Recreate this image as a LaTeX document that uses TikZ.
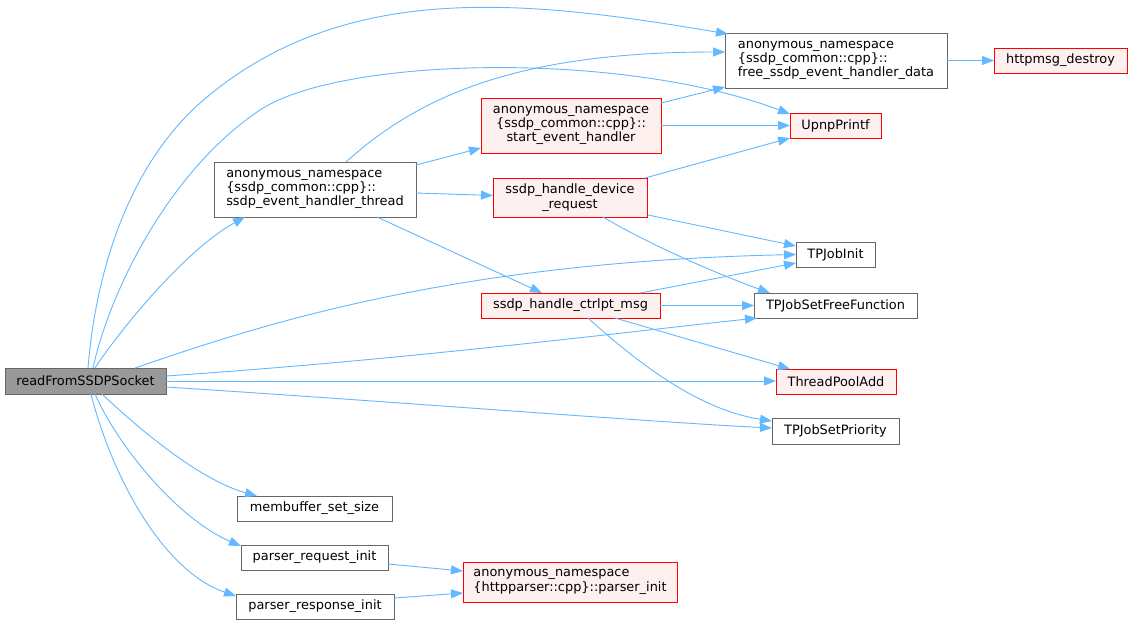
\documentclass[tikz,border=0pt]{standalone}
\usepackage{fontspec}
\setmainfont{DejaVu Sans}
\usetikzlibrary{arrows.meta,calc}
\definecolor{edgec}{HTML}{63B8FF}
\definecolor{grayb}{HTML}{666666}
\definecolor{redfill}{HTML}{FFF0F0}
\definecolor{mainfill}{HTML}{999999}
\begin{document}
\begin{tikzpicture}[x=1pt,y=-1pt,
  base/.style={rectangle,inner sep=0pt,outer sep=0pt,line width=1pt,align=left,
    font=\fontsize{12.9}{14.3}\selectfont},
  box/.style={base,draw=grayb,fill=white},
  redbox/.style={base,draw=red,fill=redfill},
  mainbox/.style={base,draw=grayb,fill=mainfill},
  edge/.style={draw=edgec,line width=0.9pt,-{Triangle[length=12pt,width=9pt]}}]
\useasboundingbox[fill=white] (0,0) rectangle (1132,625);

% nodes
\node[mainbox,minimum width=161pt,minimum height=26pt] (rf) at (85.5,381) {readFromSSDPSocket};
\node[box,minimum width=202pt,minimum height=55pt] (eht) at (315,189.5) {anonymous\_namespace\\\{ssdp\_common::cpp\}::\\ssdp\_event\_handler\_thread};
\node[box,minimum width=222pt,minimum height=55pt] (free) at (836,60.5) {anonymous\_namespace\\\{ssdp\_common::cpp\}::\\free\_ssdp\_event\_handler\_data};
\node[redbox,minimum width=133pt,minimum height=25pt] (hd) at (1060.5,60.5) {httpmsg\_destroy};
\node[redbox,minimum width=180pt,minimum height=55pt,align=center] (seh) at (571,125.5) {anonymous\_namespace\\\{ssdp\_common::cpp\}::\\start\_event\_handler};
\node[redbox,minimum width=91pt,minimum height=25pt] (upnp) at (835.5,125.5) {UpnpPrintf};
\node[redbox,minimum width=154pt,minimum height=39pt,align=center] (sdr) at (570,197.5) {ssdp\_handle\_device\\\_request};
\node[box,minimum width=79pt,minimum height=25pt] (tji) at (835.5,254.5) {TPJobInit};
\node[redbox,minimum width=179pt,minimum height=25pt] (sctrl) at (570.5,305.5) {ssdp\_handle\_ctrlpt\_msg};
\node[box,minimum width=163pt,minimum height=25pt] (tsff) at (835.5,305.5) {TPJobSetFreeFunction};
\node[redbox,minimum width=120pt,minimum height=25pt] (tpa) at (836,381.5) {ThreadPoolAdd};
\node[box,minimum width=127pt,minimum height=26pt] (tsp) at (835.5,431) {TPJobSetPriority};
\node[box,minimum width=155pt,minimum height=25pt] (mbs) at (314.5,508.5) {membuffer\_set\_size};
\node[box,minimum width=147pt,minimum height=25pt] (pri) at (314.5,557.5) {parser\_request\_init};
\node[box,minimum width=158pt,minimum height=25pt] (prs) at (315,606.5) {parser\_response\_init};
\node[redbox,minimum width=214pt,minimum height=40pt] (pin) at (570,582) {anonymous\_namespace\\\{httpparser::cpp\}::parser\_init};

% edges from readFromSSDPSocket
\draw[edge] ($(rf.north west)+(83,0)$) .. controls (95,280) and (125,165) .. (207,97)
   .. controls (348,-20) and (527,0) .. ($(free.north west)+(3,1)$);
\draw[edge] ($(rf.north west)+(88,0)$) .. controls (110,290) and (170,170) .. (260,110)
   .. controls (340,57) and (620,50) .. ($(upnp.north west)+(0,1)$);
\draw[edge] ($(rf.north west)+(90,0)$) .. controls (120,330) and (185,250) .. ($(eht.south west)+(31,0)$);
\draw[edge] ($(rf.north west)+(130,0)$) .. controls (260,325) and (450,262) .. (tji.west);
\draw[edge] ($(rf.north east)+(0,8)$) .. controls (400,360) and (600,335) .. ($(tsff.south west)+(3,0)$);
\draw[edge] (rf.east) -- (rf.east -| tpa.west);
\draw[edge] ($(rf.north east)+(0,19)$) .. controls (400,402) and (650,422) .. ($(tsp.west)+(0,-3)$);
\draw[edge] ($(rf.south west)+(97,0)$) .. controls (140,430) and (200,480) .. ($(mbs.north west)+(20,0)$);
\draw[edge] ($(rf.south west)+(90,0)$) .. controls (120,450) and (180,520) .. ($(pri.north west)+(0,1)$);
\draw[edge] ($(rf.south west)+(86,0)$) .. controls (110,470) and (160,570) .. ($(prs.north west)+(0,2)$);

% edges from ssdp_event_handler_thread
\draw[edge] ($(eht.north west)+(132,0)$) .. controls (420,95) and (520,52) .. ($(free.north west)+(0,19)$);
\draw[edge] ($(eht.north east)+(0,3)$) -- ($(seh.south west)+(0,-5)$);
\draw[edge] ($(eht.east)+(0,3.5)$) -- ($(sdr.west)+(0,-2)$);
\draw[edge] ($(eht.south east)+(-39,0)$) -- ($(sctrl.north west)+(61,0)$);

% edges from start_event_handler
\draw[edge] ($(seh.north east)+(0,5)$) -- ($(free.south west)+(0,-1)$);
\draw[edge] (seh.east) -- (upnp.west);

% edges from ssdp_handle_device_request
\draw[edge] ($(sdr.north east)+(-2,0)$) -- (upnp.south west);
\draw[edge] ($(sdr.south east)+(1,-2)$) -- ($(tji.north west)+(0,4)$);
\draw[edge] ($(sdr.south west)+(110,0)$) .. controls (650,245) and (720,275) .. ($(tsff.north west)+(16,0)$);

% edges from ssdp_handle_ctrlpt_msg
\draw[edge] ($(sctrl.north west)+(159,0)$) -- ($(tji.south west)+(0,-4)$);
\draw[edge] (sctrl.east) -- (tsff.west);
\draw[edge] ($(sctrl.south west)+(134,0)$) -- ($(tpa.north west)+(14,0)$);
\draw[edge] ($(sctrl.south west)+(107,0)$) .. controls (640,365) and (700,410) .. ($(tsp.north west)+(0,3)$);

% other edges
\draw[edge] (free.east) -- (hd.west);
\draw[edge] ($(pri.south east)+(0,-6)$) -- ($(pin.north west)+(0,9)$);
\draw[edge] ($(prs.north east)+(0,4)$) -- ($(pin.south west)+(0,-9)$);
\end{tikzpicture}
\end{document}
